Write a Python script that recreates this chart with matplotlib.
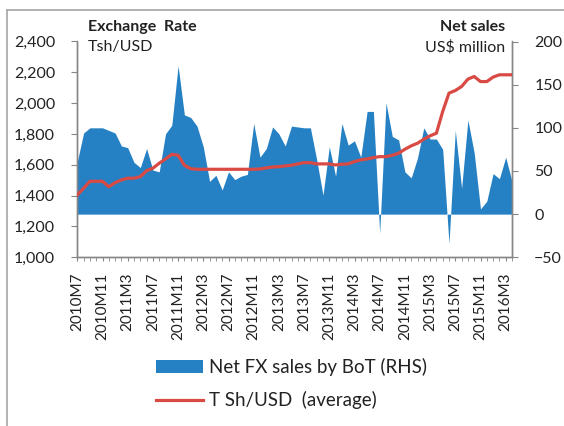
import matplotlib
matplotlib.use('Agg')
import matplotlib.pyplot as plt
from matplotlib.lines import Line2D
from matplotlib.patches import Patch
from matplotlib.ticker import FuncFormatter, MultipleLocator, FixedLocator

plt.rcParams['font.family'] = ['Lato', 'DejaVu Sans']

# Categories: monthly, 2010M7 .. 2016M4
categories = []
y, m = 2010, 7
for _ in range(70):
    categories.append(f"{y}M{m}")
    m += 1
    if m > 12:
        m = 1
        y += 1

# Net FX sales by BoT (US$ million, RHS)
net_sales = [61, 94, 100, 100, 100, 97, 94, 79, 77, 60,
             54, 76, 51, 49, 93, 103, 172, 115, 112, 102,
             78, 38, 45, 28, 49, 40, 44, 46, 105, 66,
             76, 101, 93, 79, 102, 101, 100, 100, 63, 22,
             78, 44, 105, 80, 85, 66, 119, 119, -22, 129,
             90, 86, 49, 42, 65, 100, 87, 87, 75, -34,
             97, 30, 109, 71, 6, 15, 47, 41, 66, 38]

# TSh/USD (average, LHS)
tsh_usd = [1404, 1448, 1493, 1493, 1493, 1458, 1484, 1502, 1513, 1513,
           1523, 1562, 1578, 1610, 1638, 1668, 1662, 1597, 1575, 1571,
           1571, 1571, 1571, 1571, 1571, 1571, 1571, 1571, 1571, 1573,
           1580, 1586, 1588, 1593, 1597, 1606, 1614, 1614, 1606, 1606,
           1606, 1599, 1604, 1606, 1621, 1632, 1638, 1647, 1653, 1653,
           1662, 1675, 1701, 1723, 1740, 1766, 1788, 1805, 1946, 2065,
           2082, 2108, 2156, 2173, 2140, 2140, 2169, 2184, 2184, 2184]

BLUE = '#2581C4'
RED = '#D94A45'
GRAY = '#868686'

W, H = 564, 426
fig = plt.figure(figsize=(W / 100, H / 100), dpi=100)

x = list(range(len(categories)))

ax = fig.add_axes([77.3 / W, 1 - 257.3 / H, (512 - 77.3) / W, (257.3 - 41.5) / H])
ax2 = ax.twinx()

ax.fill_between(x, 0, net_sales, color=BLUE, linewidth=0, zorder=2)
ax2.plot(x, tsh_usd, color=RED, linewidth=2.3, zorder=3)

ax.set_xlim(0, len(categories) - 1)
ax.set_ylim(-50, 200)
ax2.set_ylim(1000, 2400)

# swap sides: left = exchange rate, right = net sales
ax.yaxis.tick_right()
ax2.yaxis.tick_left()
ax.yaxis.set_major_locator(MultipleLocator(50))
ax2.yaxis.set_major_locator(MultipleLocator(200))
ax2.yaxis.set_major_formatter(FuncFormatter(lambda v, p: f"{int(v):,}"))

tick_idx = list(range(0, len(categories), 4))
ax.xaxis.set_major_locator(FixedLocator(tick_idx))
ax.set_xticklabels([categories[i] for i in tick_idx], rotation=90, ha='center', va='top')
ax.xaxis.set_minor_locator(MultipleLocator(1))

for a in (ax, ax2):
    for s in a.spines.values():
        s.set_color(GRAY)
        s.set_linewidth(1.0)
    a.spines['top'].set_visible(False)

ax.tick_params(axis='x', which='both', direction='out', length=3, color=GRAY,
               labelsize=11, pad=8, labelcolor='#222222')
ax.tick_params(axis='y', direction='out', length=4, color=GRAY, labelsize=11.5,
               pad=12, labelcolor='#222222')
ax2.tick_params(axis='y', direction='out', length=4, color=GRAY, labelsize=11.5,
                pad=12, labelcolor='#222222')

# header texts
fig.text(88 / W, 1 - 27 / H, 'Exchange  Rate', fontsize=11.5, fontweight='bold',
         ha='left', va='center', color='#222222')
fig.text(88 / W, 1 - 47 / H, 'Tsh/USD', fontsize=11.5, ha='left', va='center', color='#222222')
fig.text(505 / W, 1 - 27 / H, 'Net sales', fontsize=11.5, fontweight='bold',
         ha='right', va='center', color='#222222')
fig.text(505 / W, 1 - 47 / H, 'US$ million', fontsize=11.5, ha='right', va='center',
         color='#222222')

# legend
handles = [Patch(facecolor=BLUE, edgecolor='none'),
           Line2D([0], [0], color=RED, linewidth=2.3)]
labels = ['Net FX sales by BoT (RHS)', 'T Sh/USD  (average)']
fig.legend(handles, labels, loc='upper left', bbox_to_anchor=(156 / W, 1 - 358 / H),
           frameon=False, fontsize=13.5, handlelength=2.5, handletextpad=0.35,
           labelspacing=0.8, borderaxespad=0, borderpad=0, labelcolor='#222222')

# outer chart border (partially visible)
fig.add_artist(Line2D([7 / W, 7 / W], [0, 1 - 10 / H], transform=fig.transFigure,
                      color='#A6A6A6', linewidth=1.2))
fig.add_artist(Line2D([7 / W, 1], [1 - 10 / H, 1 - 10 / H], transform=fig.transFigure,
                      color='#A6A6A6', linewidth=1.2))

fig.savefig('out.png', dpi=100)
